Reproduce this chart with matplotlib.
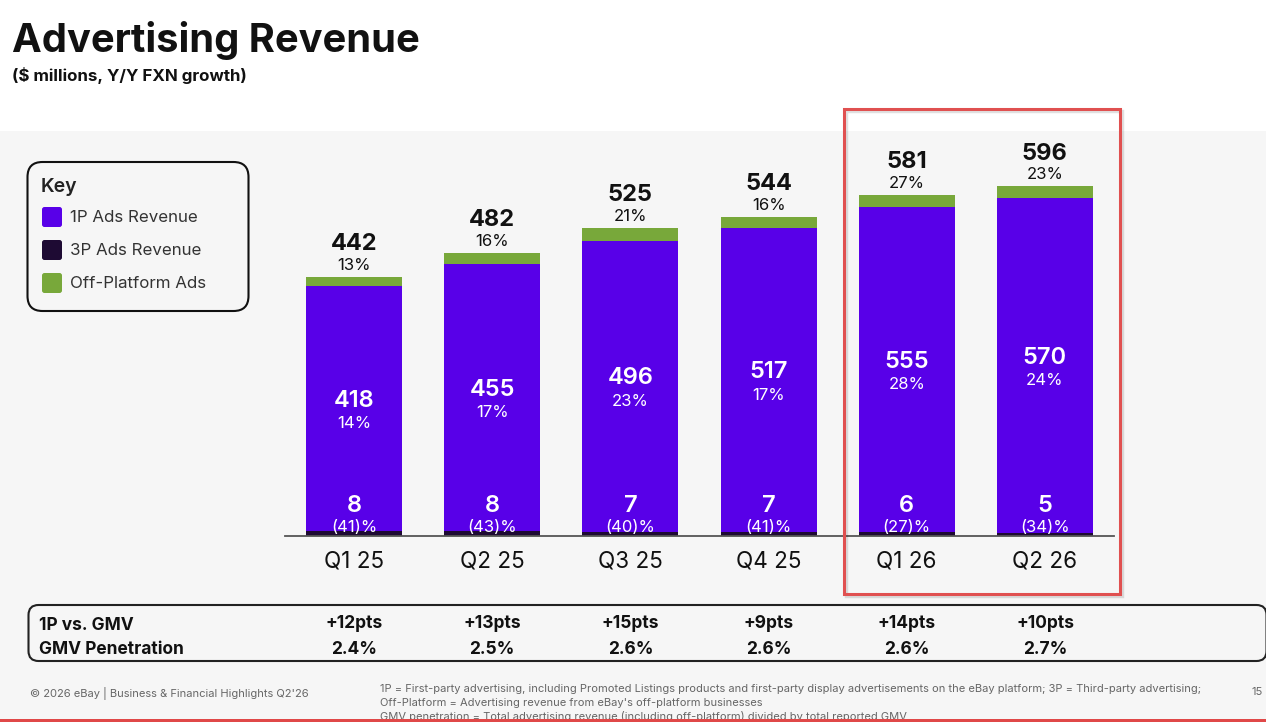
import matplotlib
matplotlib.use("Agg")
import matplotlib.pyplot as plt
from matplotlib.patches import FancyBboxPatch, Rectangle

plt.rcParams['font.family'] = ['Inter', 'DejaVu Sans']

quarters = ["Q1 25", "Q2 25", "Q3 25", "Q4 25", "Q1 26", "Q2 26"]
totals = [442, 482, 525, 544, 581, 596]
total_growth = ["13%", "16%", "21%", "16%", "27%", "23%"]
ads_1p = [418, 455, 496, 517, 555, 570]
growth_1p = ["14%", "17%", "23%", "17%", "28%", "24%"]
ads_3p = [8, 8, 7, 7, 6, 5]
growth_3p = ["(41)%", "(43)%", "(40)%", "(41)%", "(27)%", "(34)%"]
off_platform = [16, 19, 22, 20, 20, 21]
pts_vs_gmv = ["+12pts", "+13pts", "+15pts", "+9pts", "+14pts", "+10pts"]
gmv_pen = ["2.4%", "2.5%", "2.6%", "2.6%", "2.6%", "2.7%"]

PURPLE = "#5800E8"
DARK = "#1E0A33"
GREEN = "#78A83A"
BG = "#F6F6F6"
INK = "#111111"

fig = plt.figure(figsize=(12.66, 7.22), dpi=100, facecolor="white")

# page layer in pixel coords
page = fig.add_axes([0, 0, 1, 1])
page.set_xlim(0, 1266)
page.set_ylim(722, 0)
page.axis("off")

page.add_patch(Rectangle((0, 131), 1266, 591, fc=BG, ec="none", zorder=0))
page.text(12, 41, "Advertising Revenue", fontsize=28.7, fontweight="bold", color=INK, va="center")
page.text(12, 76, "($ millions, Y/Y FXN growth)", fontsize=12.2, fontweight="bold", color=INK, va="center")

# key
page.add_patch(FancyBboxPatch((27.5, 162), 221, 149, boxstyle="round,pad=0,rounding_size=15",
                              fc=BG, ec="#111111", lw=1.5, zorder=1))
page.text(41, 187, "Key", fontsize=14, fontweight="semibold", color="#222222", va="center", zorder=2)
key_labels = ["1P Ads Revenue", "3P Ads Revenue", "Off-Platform Ads"]
key_colors = [PURPLE, DARK, GREEN]
key_y = [217, 250, 283]
for lab, col, yy in zip(key_labels, key_colors, key_y):
    page.add_patch(FancyBboxPatch((42, yy - 10), 20, 20, boxstyle="round,pad=0,rounding_size=2.5",
                                  fc=col, ec="none", zorder=2))
    page.text(70, yy + 0.5, lab, fontsize=12.2, color="#333333", va="center", zorder=2)

# table
page.add_patch(FancyBboxPatch((28.5, 605), 1238, 56, boxstyle="round,pad=0,rounding_size=10",
                              fc=BG, ec="#222222", lw=1.5, zorder=1))
page.text(39, 625, "1P vs. GMV", fontsize=12.5, fontweight="bold", color=INK, va="center", zorder=2)
page.text(39, 650, "GMV Penetration", fontsize=12.5, fontweight="bold", color=INK, va="center", zorder=2)

# footer
page.text(30, 694, "© 2026 eBay | Business & Financial Highlights Q2'26", fontsize=8, color="#666666", va="center", zorder=2)
foot = ["1P = First-party advertising, including Promoted Listings products and first-party display advertisements on the eBay platform; 3P = Third-party advertising;",
        "Off-Platform = Advertising revenue from eBay's off-platform businesses",
        "GMV penetration = Total advertising revenue (including off-platform) divided by total reported GMV"]
for line, yy in zip(foot, [689, 703, 716]):
    page.text(380, yy, line, fontsize=8, color="#666666", va="center", zorder=2)
page.text(1251, 692, "15", fontsize=8, color="#666666", va="center", zorder=2)
page.add_patch(Rectangle((0, 719), 1266, 3, fc="#E04848", ec="none", zorder=3))

# bars
ax = fig.add_axes([285 / 1266, 1 - 536 / 722, 829 / 1266, 406 / 722])
ax.patch.set_alpha(0)
x = list(range(6))
base_3p = ads_3p
base_off = [a + b for a, b in zip(ads_3p, ads_1p)]
ax.bar(x, ads_3p, 0.695, color=DARK)
ax.bar(x, ads_1p, 0.695, bottom=base_3p, color=PURPLE)
ax.bar(x, off_platform, 0.695, bottom=base_off, color=GREEN)
ax.set_xlim(-0.5, 5.5)
ax.set_ylim(0, 406 / 0.587)
ax.set_yticks([])
ax.set_xticks(x)
ax.set_xticklabels(quarters, fontsize=16.2, color=INK)
ax.tick_params(axis="x", length=0, pad=10.5)
for s in ["top", "left", "right"]:
    ax.spines[s].set_visible(False)
ax.spines["bottom"].set_color("#555555")
ax.spines["bottom"].set_linewidth(1.3)

for i in x:
    ax.annotate(str(totals[i]), (i, totals[i]), xytext=(0, 23.5), textcoords="offset points",
                ha="center", va="center", fontsize=17, fontweight="bold", color=INK)
    ax.annotate(total_growth[i], (i, totals[i]), xytext=(0, 8.2), textcoords="offset points",
                ha="center", va="center", fontsize=12, color=INK)
    mid = base_3p[i] + ads_1p[i] / 2
    ax.annotate(str(ads_1p[i]), (i, mid), xytext=(0, 5.8), textcoords="offset points",
                ha="center", va="center", fontsize=17, fontweight="semibold", color="white")
    ax.annotate(growth_1p[i], (i, mid), xytext=(0, -10.8), textcoords="offset points",
                ha="center", va="center", fontsize=12, color="white")
    ax.annotate(str(ads_3p[i]), (i, 0), xytext=(0, 21.8), textcoords="offset points",
                ha="center", va="center", fontsize=17, fontweight="semibold", color="white")
    ax.annotate(growth_3p[i], (i, 0), xytext=(0, 6), textcoords="offset points",
                ha="center", va="center", fontsize=12, color="white", annotation_clip=False)
    xp = 354 + 138.2 * i
    page.text(xp, 623, pts_vs_gmv[i], fontsize=12.5, fontweight="bold", color=INK, ha="center", va="center", zorder=2)
    page.text(xp, 650, gmv_pen[i], fontsize=12.5, fontweight="bold", color=INK, ha="center", va="center", zorder=2)

# red highlight, drawn on its own layer above the bars
top = fig.add_axes([0, 0, 1, 1])
top.set_xlim(0, 1266)
top.set_ylim(722, 0)
top.axis("off")
top.patch.set_alpha(0)
top.add_patch(Rectangle((846, 111), 276, 485, fc="none", ec="#000000", alpha=0.12, lw=2.5))
top.add_patch(Rectangle((844, 109), 276, 485, fc="none", ec="#E05050", lw=2.2))

fig.savefig("out.png", dpi=100)
